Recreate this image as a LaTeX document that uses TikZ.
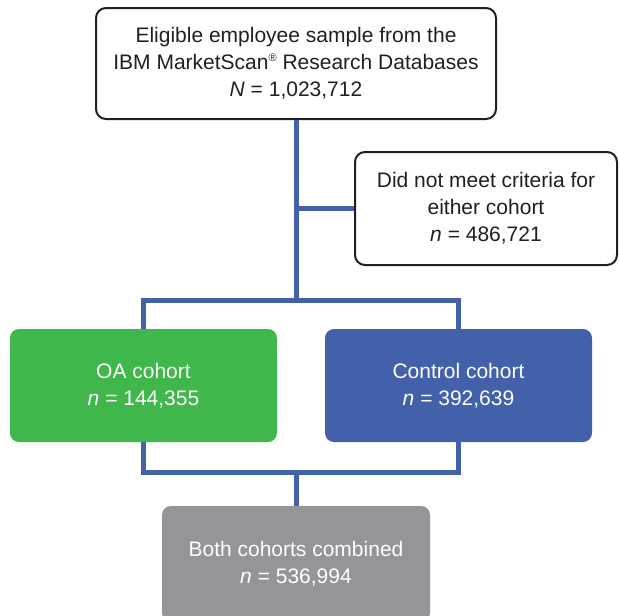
\documentclass[tikz,border=0pt]{standalone}
\usepackage{fontspec}
\setmainfont{Liberation Sans}
\definecolor{oagreen}{RGB}{63,183,75}
\definecolor{ctrlblue}{RGB}{67,96,171}
\definecolor{bothgray}{RGB}{147,149,152}
\definecolor{txt}{RGB}{35,31,32}
\newcommand{\regmark}{\raisebox{0.75ex}{\fontsize{11}{11}\selectfont ®}}
\tikzset{
  conn/.style={draw=ctrlblue, line width=5pt, line join=miter},
  whitebox/.style={draw=txt, line width=2pt, fill=white, rounded corners=10pt, align=center, text=txt, font=\fontsize{21}{27}\selectfont, inner sep=0pt},
  colbox/.style={draw=none, rounded corners=9pt, align=center, text=white, font=\fontsize{21}{27}\selectfont, inner sep=0pt},
}
\begin{document}
\begin{tikzpicture}[x=1pt,y=-1pt]
\useasboundingbox (0,0) rectangle (619,616);
\node[whitebox, minimum width=400pt, minimum height=111pt] (top) at (296,63.5)
  {Eligible employee sample from the\\IBM MarketScan\regmark{} Research Databases\\\textit{N} = 1,023,712};
\node[whitebox, minimum width=262pt, minimum height=113pt] (excl) at (486,208.5)
  {Did not meet criteria for\\either cohort\\\textit{n} = 486,721};
\node[colbox, fill=oagreen, minimum width=267pt, minimum height=113pt] (oa) at (143.5,385.5)
  {OA cohort\\\textit{n} = 144,355};
\node[colbox, fill=ctrlblue, minimum width=267pt, minimum height=113pt] (ctrl) at (458.5,385.5)
  {Control cohort\\\textit{n} = 392,639};
\node[colbox, fill=bothgray, minimum width=268pt, minimum height=116pt] (both) at (296,564)
  {Both cohorts combined\\\textit{n} = 536,994};
\coordinate (j1) at (296,300);
\coordinate (j2) at (296,472);
\draw[conn] (top.south) -- (j1);
\draw[conn] (top.south |- excl.west) -- (excl.west);
\draw[conn] (oa.north) |- (j1) -| (ctrl.north);
\draw[conn] (oa.south) |- (j2) -| (ctrl.south);
\draw[conn] (j2) -- (both.north);
\end{tikzpicture}
\end{document}
